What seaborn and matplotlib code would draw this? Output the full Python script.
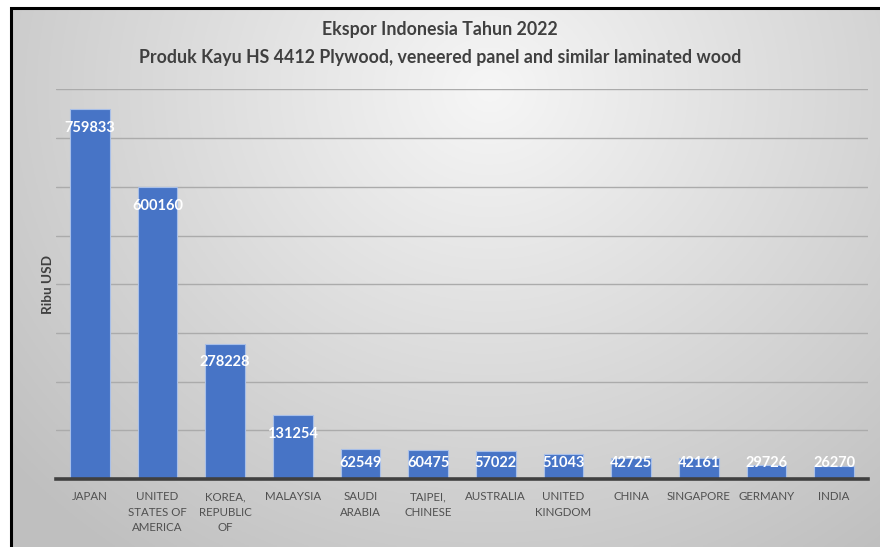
#!/usr/bin/env python3
"""Ekspor Indonesia 2022, HS 4412 plywood, per negara tujuan."""

import numpy as np
import pandas as pd
import seaborn as sns
import matplotlib.pyplot as plt
from matplotlib.patches import Rectangle

countries = [
    "JAPAN", "UNITED\nSTATES OF\nAMERICA", "KOREA,\nREPUBLIC\nOF", "MALAYSIA",
    "SAUDI\nARABIA", "TAIPEI,\nCHINESE", "AUSTRALIA", "UNITED\nKINGDOM",
    "CHINA", "SINGAPORE", "GERMANY", "INDIA",
]
values = [759833, 600160, 278228, 131254, 62549, 60475, 57022, 51043,
          42725, 42161, 29726, 26270]
title_lines = [
    "Ekspor Indonesia Tahun 2022",
    "Produk Kayu HS 4412 Plywood, veneered panel and similar laminated wood",
]
ylabel = "Ribu USD"

sns.set_theme(style="white")
plt.rcParams["font.family"] = ["Lato", "DejaVu Sans"]

W, H = 880, 547
fig = plt.figure(figsize=(W / 100, H / 100), dpi=100, facecolor="white")

# gradient background of the chart area (radial, light in the upper middle)
bg_left, bg_top = 12 / W, 1 - 9 / H
bg = fig.add_axes([bg_left, 0, 1 - bg_left, bg_top], zorder=0)
gx, gy = np.meshgrid(np.linspace(0, 1, 400), np.linspace(0, 1, 250))
dist = np.sqrt(((gx - 0.55) / 0.75) ** 2 + ((gy - 0.15) / 1.1) ** 2)
shade = np.clip(0.965 - 0.22 * dist, 0.75, 0.965)
bg.imshow(np.dstack([shade] * 3), aspect="auto", extent=(0, 1, 1, 0))
bg.set_axis_off()

# black frame of the screenshot (left and top edges)
fig.add_artist(Rectangle((11 / W, -0.1), 1.1, 1 - 8 / H + 0.1,
                         transform=fig.transFigure, fill=False,
                         edgecolor="black", linewidth=2.2, zorder=1))

ax = fig.add_axes([56 / W, 68 / H, 812 / W, (479 - 89.4) / H], zorder=2)
ax.patch.set_alpha(0)

df = pd.DataFrame({"country": countries, "value": values})
sns.barplot(data=df, x="country", y="value", color="#4774c6", saturation=1,
            width=0.59, edgecolor="#a8bfe8", linewidth=0.8, ax=ax, zorder=3)

ax.set_ylim(0, 800000)
ax.set_yticks(np.arange(0, 800001, 100000))
ax.set_yticklabels([])
ax.tick_params(axis="both", length=0)
ax.yaxis.grid(True, color="#ababab", linewidth=1)
ax.set_axisbelow(True)
for side in ["left", "right", "top"]:
    ax.spines[side].set_visible(False)
ax.spines["bottom"].set_color("#404040")
ax.spines["bottom"].set_linewidth(2.6)
ax.spines["bottom"].set_zorder(5)
ax.set_xlim(-0.5, len(countries) - 0.5)

ax.set_xticks(range(len(countries)))
ax.set_xticklabels(countries, fontsize=8.3, color="#505050", linespacing=1.45,
                   va="top")
ax.tick_params(axis="x", pad=9)
ax.set_xlabel("")
ax.set_ylabel(ylabel, fontsize=9.8, fontweight="bold", color="#404040",
              labelpad=-2)

# value labels, inside the top of each bar, not lower than the baseline band
for i, v in enumerate(values):
    ypos = max(v - 39000, 33000)
    ax.text(i, ypos, f"{v}", ha="center", va="center", color="white",
            fontsize=10.5, fontweight="bold", zorder=6)

fig.text(0.5, 1 - 30 / H, title_lines[0], ha="center", va="center",
         fontsize=12.8, fontweight="bold", color="#404040")
fig.text(0.5, 1 - 57 / H, title_lines[1], ha="center", va="center",
         fontsize=12.8, fontweight="bold", color="#404040")

fig.savefig("out.png", dpi=100, facecolor="white")
